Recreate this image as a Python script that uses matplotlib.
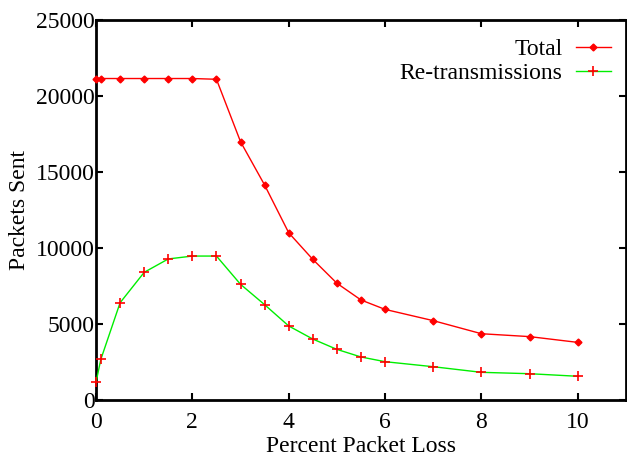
import matplotlib
matplotlib.use("Agg")
import matplotlib.pyplot as plt

# percent packet loss
loss = [0, 0.1, 0.5, 1, 1.5, 2, 2.5, 3, 3.5, 4, 4.5, 5, 5.5, 6, 7, 8, 9, 10]

# packets sent
total = [21150, 21150, 21150, 21150, 21150, 21150, 21100, 16990, 14140, 11000,
         9250, 7680, 6580, 5960, 5220, 4360, 4170, 3790]
retrans = [1160, 2670, 6400, 8400, 9280, 9470, 9470, 7610, 6270, 4870,
           4010, 3330, 2830, 2520, 2190, 1820, 1730, 1560]

x_ticks = [0, 2, 4, 6, 8, 10]
y_ticks = [0, 5000, 10000, 15000, 20000, 25000]

plt.rcParams['font.family'] = ['Liberation Serif', 'DejaVu Serif']

fig = plt.figure(figsize=(6.27, 4.57), dpi=100)
ax = fig.add_axes([96 / 627, 1 - 400 / 457, 530 / 627, 380 / 457])

ax.plot(loss, total, color='#ff0000', lw=1.0, marker='D', ms=3.5,
        mfc='#ff0000', mec='#ff0000', label='Total', clip_on=False, zorder=3)
ax.plot(loss, retrans, color='#00ee00', lw=1.0, marker='+', ms=6.5, mew=1.2,
        mec='#ff0000', label='Re-transmissions', clip_on=False, zorder=3)

ax.set_xlim(0, 11)
ax.set_ylim(0, 25000)
ax.set_xticks(x_ticks)
ax.set_yticks(y_ticks)
ax.tick_params(direction='in', top=True, right=True, length=5, width=1.5,
               labelsize=17)
ax.tick_params(axis='y', pad=1)
ax.tick_params(axis='x', pad=9)
for s in ax.spines.values():
    s.set_linewidth(2)

ax.set_xlabel('Percent Packet Loss', fontsize=17, labelpad=2)
ax.set_ylabel('Packets Sent', fontsize=17, labelpad=4)

ax.legend(loc='upper right', frameon=False, markerfirst=False, fontsize=17,
          handlelength=1.5, handletextpad=0.55, labelspacing=0.1,
          borderaxespad=0.3, bbox_to_anchor=(1.003, 0.995))

fig.savefig('out.png', dpi=100)
